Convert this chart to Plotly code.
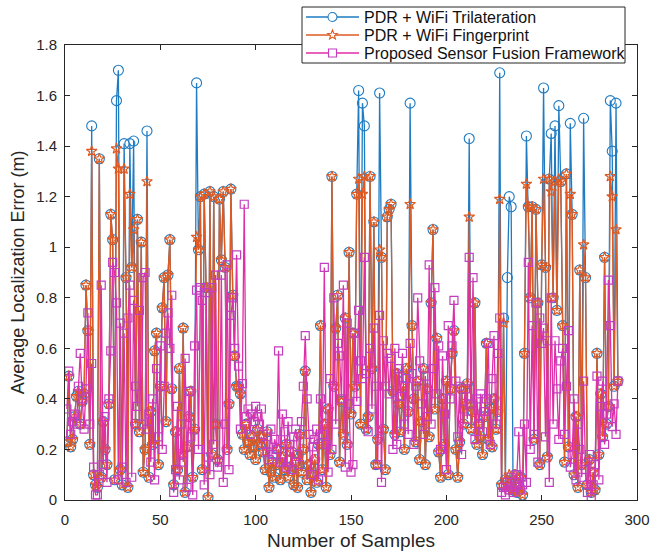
import math
import plotly.graph_objects as go

samples = list(range(1, 291))

trilateration = [
    0.23, 0.49, 0.21, 0.24, 0.33, 0.41, 0.43, 0.30, 0.39, 0.42,
    0.85, 0.67, 0.22, 1.48, 0.10, 0.06, 0.05, 1.35, 0.09, 0.31,
    0.20, 0.14, 0.38, 1.13, 1.03, 0.08, 1.58, 1.70, 0.12, 0.06,
    1.41, 0.88, 0.05, 1.41, 0.92, 1.42, 0.30, 1.11, 0.27, 1.02,
    0.11, 0.20, 1.46, 0.09, 0.35, 0.22, 0.59, 0.66, 0.14, 0.45,
    0.76, 0.88, 0.31, 0.89, 1.03, 0.44, 0.06, 0.27, 0.12, 0.52,
    0.18, 0.68, 0.03, 0.21, 0.33, 0.43, 0.09, 0.28, 1.65, 0.99,
    1.20, 0.12, 1.21, 0.84, 0.01, 1.22, 0.18, 1.20, 0.30, 0.16,
    1.19, 0.95, 1.22, 0.92, 0.20, 0.38, 1.23, 0.81, 0.57, 0.45,
    0.45, 0.42, 0.26, 0.20, 0.30, 0.23, 0.18, 0.25, 0.21, 0.16,
    0.28, 0.22, 0.25, 0.19, 0.12, 0.27, 0.05, 0.11, 0.15, 0.09,
    0.14, 0.20, 0.08, 0.17, 0.12, 0.22, 0.09, 0.13, 0.19, 0.06,
    0.15, 0.05, 0.26, 0.11, 0.20, 0.51, 0.08, 0.14, 0.03, 0.10,
    0.16, 0.07, 0.22, 0.69, 0.12, 0.30, 0.05, 0.36, 0.18, 1.28,
    0.45, 0.68, 0.81, 0.15, 0.39, 0.26, 0.72, 0.22, 0.98, 0.34,
    0.66, 0.45, 1.21, 1.62, 0.30, 1.57, 1.48, 0.28, 0.33, 1.28,
    0.52, 1.10, 0.14, 0.24, 1.61, 0.96, 0.28, 0.12, 1.12, 1.15,
    1.17, 0.43, 0.26, 0.50, 0.38, 0.27, 0.45, 0.20, 0.52, 0.35,
    1.57, 0.69, 0.40, 0.23, 0.47, 0.16, 0.31, 0.52, 0.14, 0.44,
    0.25, 0.78, 1.07, 0.36, 0.64, 0.19, 0.09, 0.40, 0.22, 0.47,
    0.10, 0.44, 0.58, 0.67, 0.20, 0.09, 0.23, 0.44, 0.30, 0.38,
    0.46, 1.43, 0.28, 0.35, 0.78, 0.22, 0.30, 0.25, 0.18, 0.33,
    0.62, 0.24, 0.36, 0.21, 0.40, 0.28, 0.35, 1.69, 0.06, 0.72,
    0.08, 0.88, 1.20, 1.16, 0.04, 0.10, 0.03, 0.06, 0.09, 0.02,
    0.58, 1.44, 1.16, 0.80, 1.16, 0.24, 1.15, 0.78, 0.14, 0.93,
    1.63, 0.92, 0.17, 1.27, 1.45, 0.80, 1.48, 0.75, 1.56, 1.26,
    0.69, 0.15, 1.29, 0.21, 1.49, 1.13, 0.10, 0.33, 0.05, 0.91,
    0.14, 1.51, 0.88, 0.06, 0.16, 0.03, 0.11, 0.04, 0.58, 0.18,
    0.42, 0.25, 0.96, 0.30, 0.37, 1.58, 1.38, 0.45, 1.57, 0.47,
]

fingerprint = [
    0.23, 0.49, 0.21, 0.24, 0.33, 0.41, 0.43, 0.30, 0.39, 0.42,
    0.85, 0.67, 0.22, 1.38, 0.10, 0.06, 0.05, 1.35, 0.09, 0.31,
    0.20, 0.14, 0.38, 1.13, 1.03, 0.08, 1.39, 1.31, 0.12, 0.06,
    1.31, 0.88, 0.05, 1.21, 0.92, 1.07, 0.30, 1.11, 0.27, 1.02,
    0.11, 0.20, 1.26, 0.09, 0.35, 0.22, 0.59, 0.66, 0.14, 0.45,
    0.76, 0.88, 0.31, 0.89, 1.03, 0.44, 0.06, 0.27, 0.12, 0.52,
    0.18, 0.68, 0.03, 0.21, 0.33, 0.43, 0.09, 0.28, 1.04, 0.99,
    1.20, 0.12, 1.21, 0.84, 0.01, 1.22, 0.18, 1.20, 0.30, 0.16,
    1.19, 0.95, 1.22, 0.92, 0.20, 0.38, 1.23, 0.81, 0.57, 0.45,
    0.45, 0.42, 0.26, 0.20, 0.30, 0.23, 0.18, 0.25, 0.21, 0.16,
    0.28, 0.22, 0.25, 0.19, 0.12, 0.27, 0.05, 0.11, 0.15, 0.09,
    0.14, 0.20, 0.08, 0.17, 0.12, 0.22, 0.09, 0.13, 0.19, 0.06,
    0.15, 0.05, 0.26, 0.11, 0.20, 0.51, 0.08, 0.14, 0.03, 0.10,
    0.16, 0.07, 0.22, 0.69, 0.12, 0.30, 0.05, 0.36, 0.18, 1.28,
    0.45, 0.68, 0.81, 0.15, 0.39, 0.26, 0.72, 0.22, 0.98, 0.34,
    0.66, 0.45, 1.21, 1.27, 0.30, 1.21, 1.28, 0.28, 0.33, 1.28,
    0.52, 1.10, 0.14, 0.24, 0.99, 0.96, 0.28, 0.12, 1.12, 1.15,
    1.17, 0.43, 0.26, 0.50, 0.38, 0.27, 0.45, 0.20, 0.52, 0.35,
    1.17, 0.69, 0.40, 0.23, 0.47, 0.16, 0.31, 0.52, 0.14, 0.44,
    0.25, 0.78, 1.07, 0.36, 0.64, 0.19, 0.09, 0.40, 0.22, 0.47,
    0.10, 0.44, 0.58, 0.67, 0.20, 0.09, 0.23, 0.44, 0.30, 0.38,
    0.46, 1.12, 0.28, 0.35, 0.78, 0.22, 0.30, 0.25, 0.18, 0.33,
    0.62, 0.24, 0.36, 0.21, 0.40, 0.28, 0.35, 1.19, 0.06, 0.70,
    0.08, 0.06, 0.10, 0.04, 0.04, 0.10, 0.03, 0.06, 0.09, 0.02,
    0.58, 1.25, 1.16, 0.80, 1.16, 0.24, 1.15, 0.78, 0.14, 0.93,
    1.27, 0.92, 0.17, 1.27, 1.22, 0.80, 1.26, 0.75, 1.27, 1.26,
    0.69, 0.15, 1.29, 0.21, 1.21, 1.13, 0.10, 0.33, 0.05, 0.91,
    0.14, 1.01, 0.88, 0.06, 0.16, 0.03, 0.11, 0.04, 0.58, 0.18,
    0.42, 0.25, 0.96, 0.30, 0.37, 1.28, 1.20, 0.45, 1.07, 0.47,
]

proposed = [
    0.36, 0.51, 0.26, 0.31, 0.34, 0.30, 0.45, 0.58, 0.40, 0.28,
    0.44, 0.74, 0.30, 0.54, 0.13, 0.02, 0.02, 0.10, 0.85, 0.14,
    0.33, 0.07, 0.40, 0.59, 0.94, 0.90, 0.78, 0.08, 0.70, 0.13,
    0.66, 0.07, 0.72, 0.85, 0.09, 0.79, 0.45, 0.37, 0.75, 0.30,
    0.88, 0.90, 0.28, 0.34, 0.15, 0.40, 0.08, 0.52, 0.25, 0.61,
    0.20, 0.45, 0.66, 0.74, 0.60, 0.81, 0.03, 0.12, 0.37, 0.08,
    0.30, 0.15, 0.56, 0.05, 0.43, 0.25, 0.02, 0.61, 0.83, 0.20,
    0.84, 0.79, 0.06, 0.82, 0.17, 0.10, 0.84, 0.22, 0.89, 0.13,
    0.15, 0.89, 0.07, 0.30, 0.93, 0.12, 0.73, 0.80, 0.60, 0.97,
    0.53, 0.28, 0.46, 1.17, 0.33, 0.36, 0.26, 0.34, 0.31, 0.37,
    0.33, 0.30, 0.36, 0.26, 0.22, 0.19, 0.16, 0.28, 0.18, 0.24,
    0.20, 0.59, 0.15, 0.34, 0.27, 0.13, 0.31, 0.22, 0.12, 0.25,
    0.28, 0.18, 0.14, 0.31, 0.45, 0.65, 0.40, 0.26, 0.10, 0.21,
    0.24, 0.28, 0.08, 0.40, 0.26, 0.92, 0.22, 0.11, 0.48, 0.20,
    0.80, 0.30, 0.62, 0.57, 0.40, 0.85, 0.13, 0.70, 0.38, 0.11,
    0.14, 0.66, 0.39, 0.75, 0.55, 0.48, 0.96, 0.50, 0.27, 0.60,
    0.36, 0.68, 0.45, 0.14, 0.73, 0.07, 0.63, 0.45, 0.58, 0.42,
    0.56, 0.20, 0.60, 0.22, 0.52, 0.41, 0.58, 0.30, 0.48, 0.26,
    0.62, 0.50, 0.22, 0.45, 0.80, 0.55, 0.38, 0.26, 0.49, 0.33,
    0.93, 0.30, 0.52, 0.84, 0.42, 0.61, 0.20, 0.57, 0.34, 0.12,
    0.69, 0.40, 0.61, 0.79, 0.47, 0.25, 0.45, 0.18, 0.36, 0.44,
    0.32, 0.96, 0.38, 0.88, 0.24, 0.40, 0.30, 0.42, 0.27, 0.35,
    0.40, 0.62, 0.22, 0.48, 0.65, 0.30, 0.58, 0.72, 0.03, 0.05,
    0.02, 0.07, 0.04, 0.09, 0.03, 0.05, 0.10, 0.27, 0.04, 0.06,
    0.30, 0.07, 0.94, 0.20, 0.69, 0.26, 0.78, 0.15, 0.72, 0.62,
    0.68, 0.25, 0.63, 0.07, 0.80, 0.30, 0.63, 0.44, 0.24, 0.55,
    0.60, 0.26, 0.45, 0.67, 0.13, 0.18, 0.40, 0.08, 0.30, 0.20,
    0.09, 0.47, 0.12, 0.03, 0.18, 0.01, 0.06, 0.14, 0.49, 0.08,
    0.37, 0.47, 0.22, 0.34, 0.87, 0.69, 0.29, 0.38, 0.26, 0.47,
]

series_names = ["PDR + WiFi Trilateration", "PDR + WiFi Fingerprint",
                "Proposed Sensor Fusion Framework"]
x_ticks = [0, 50, 100, 150, 200, 250, 300]
y_ticks = [0, 0.2, 0.4, 0.6, 0.8, 1.0, 1.2, 1.4, 1.6, 1.8]
y_tick_labels = ["0", "0.2", "0.4", "0.6", "0.8", "1", "1.2", "1.4", "1.6", "1.8"]

BLUE = "#1F7BC2"
ORANGE = "#DE5A22"
PINK_LINE = "#E02EA6"
PINK_MARK = "#C23DBF"
TEXT = "#262626"
FONT = "Liberation Sans, Arial, sans-serif"

W, H = 650, 553
ML, MR, MT, MB = 65, 13, 45, 53
PW, PH = W - ML - MR, H - MT - MB


def px2paper_x(px):
    return (px - ML) / PW


def px2paper_y(py):
    return (H - MB - py) / PH


fig = go.Figure()
fig.add_trace(go.Scatter(
    x=samples, y=trilateration, mode="lines+markers", name=series_names[0],
    line=dict(color=BLUE, width=1.3),
    marker=dict(symbol="circle-open", size=10, color=BLUE, line=dict(width=1.1)),
))
fig.add_trace(go.Scatter(
    x=samples, y=fingerprint, mode="lines+markers", name=series_names[1],
    line=dict(color=ORANGE, width=1.3),
    marker=dict(symbol="star-open", size=8, color=ORANGE, line=dict(width=1.2)),
))
fig.add_trace(go.Scatter(
    x=samples, y=proposed, mode="lines+markers", name=series_names[2],
    line=dict(color=PINK_LINE, width=1.3),
    marker=dict(symbol="square-open", size=8, color=PINK_MARK, line=dict(width=1.2)),
))

# ---- custom legend (box, sample lines, glyphs, labels) ----
shapes = []
annotations = []
box_l, box_r, box_t, box_b = 302, 625, 7, 63
shapes.append(dict(type="rect", xref="paper", yref="paper",
                   x0=px2paper_x(box_l), x1=px2paper_x(box_r),
                   y0=px2paper_y(box_b), y1=px2paper_y(box_t),
                   line=dict(color=TEXT, width=1), fillcolor="white", layer="above"))
rows = [17, 35, 53]
line_colors = [BLUE, ORANGE, PINK_LINE]
mark_colors = [BLUE, ORANGE, PINK_MARK]
for i, (py, lc, mc, name) in enumerate(zip(rows, line_colors, mark_colors, series_names)):
    shapes.append(dict(type="line", xref="paper", yref="paper",
                       x0=px2paper_x(306), x1=px2paper_x(359),
                       y0=px2paper_y(py), y1=px2paper_y(py),
                       line=dict(color=lc, width=1.3), layer="above"))
    cx = 332.5
    if i == 0:
        r = 4.5
        shapes.append(dict(type="circle", xref="paper", yref="paper",
                           x0=px2paper_x(cx - r), x1=px2paper_x(cx + r),
                           y0=px2paper_y(py + r), y1=px2paper_y(py - r),
                           line=dict(color=mc, width=1.1), fillcolor="white", layer="above"))
    elif i == 1:
        pts = []
        for k in range(10):
            ang = -math.pi / 2 + k * math.pi / 5
            rr = 5.0 if k % 2 == 0 else 2.1
            pts.append((px2paper_x(cx + rr * math.cos(ang)), px2paper_y(py + rr * math.sin(ang))))
        path = "M " + " L ".join(f"{a:.5f},{b:.5f}" for a, b in pts) + " Z"
        shapes.append(dict(type="path", xref="paper", yref="paper", path=path,
                           line=dict(color=mc, width=1.1), fillcolor="white", layer="above"))
    else:
        r = 4
        shapes.append(dict(type="rect", xref="paper", yref="paper",
                           x0=px2paper_x(cx - r), x1=px2paper_x(cx + r),
                           y0=px2paper_y(py + r), y1=px2paper_y(py - r),
                           line=dict(color=mc, width=1.1), fillcolor="white", layer="above"))
    annotations.append(dict(xref="paper", yref="paper", x=px2paper_x(362), y=px2paper_y(py),
                            xanchor="left", yanchor="middle", showarrow=False, text=name,
                            font=dict(family=FONT, size=16, color="#111111")))

axis_common = dict(
    showline=True, linecolor=TEXT, linewidth=1, mirror="ticks",
    ticks="inside", ticklen=5, tickcolor=TEXT, showgrid=False, zeroline=False,
    automargin=False,
    tickfont=dict(family=FONT, size=15, color=TEXT),
)

fig.update_layout(
    width=W, height=H,
    margin=dict(l=ML, r=MR, t=MT, b=MB, autoexpand=False),
    paper_bgcolor="white", plot_bgcolor="white",
    font=dict(family=FONT, color=TEXT),
    xaxis=dict(range=[0, 300], tickvals=x_ticks, ticklabelstandoff=6,
               title=dict(text="Number of Samples", font=dict(size=19), standoff=6),
               **axis_common),
    yaxis=dict(range=[0, 1.8], tickvals=y_ticks, ticktext=y_tick_labels, ticklabelstandoff=4,
               title=dict(text="Average Localization Error (m)", font=dict(size=18), standoff=6),
               **axis_common),
    showlegend=False,
    shapes=shapes,
    annotations=annotations,
)

fig.write_html("out.html", config={"displayModeBar": False},
               post_script="document.body.style.margin='0';document.body.style.padding='0';")
